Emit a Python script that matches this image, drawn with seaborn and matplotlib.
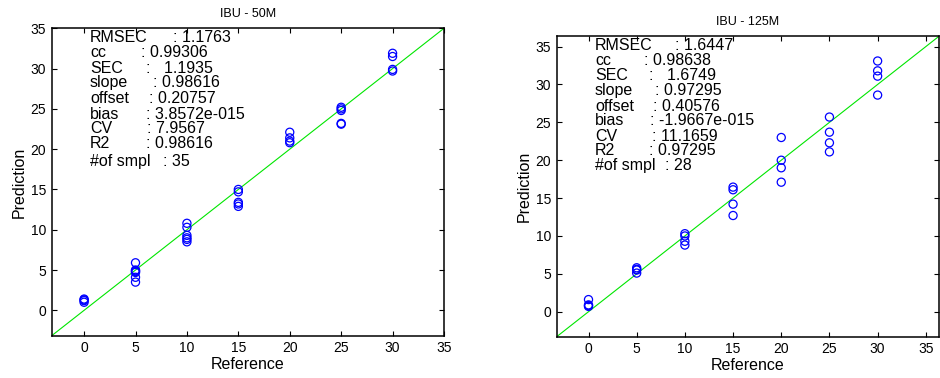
import numpy as np
import pandas as pd
import matplotlib
matplotlib.use("Agg")
import matplotlib.pyplot as plt
import seaborn as sns

# ---- data ----
ref_50 = [0, 0, 0, 0,
          5, 5, 5, 5, 5, 5, 5,
          10, 10, 10, 10, 10, 10,
          15, 15, 15, 15, 15,
          20, 20, 20, 20,
          25, 25, 25, 25, 25,
          30, 30, 30, 30]
pred_50 = [1.4, 1.3, 1.2, 1.0,
           5.9, 5.0, 4.9, 4.8, 4.7, 4.1, 3.5,
           10.8, 10.3, 9.3, 9.0, 8.8, 8.5,
           15.0, 14.7, 13.4, 13.2, 12.9,
           22.1, 21.4, 21.0, 20.8,
           25.2, 25.0, 24.8, 23.2, 23.1,
           31.9, 31.5, 29.9, 29.7]
ref_125 = [0, 0, 0, 0,
           5, 5, 5, 5,
           10, 10, 10, 10,
           15, 15, 15, 15,
           20, 20, 20, 20,
           25, 25, 25, 25,
           30, 30, 30, 30]
pred_125 = [1.6, 0.9, 0.8, 0.7,
            5.8, 5.6, 5.5, 5.1,
            10.3, 10.0, 9.3, 8.8,
            16.45, 16.1, 14.2, 12.7,
            23.0, 20.0, 19.0, 17.1,
            25.7, 23.7, 22.3, 21.1,
            33.1, 31.8, 31.1, 28.6]

titles = ["IBU - 50M", "IBU - 125M"]
stat_names = ["RMSEC", "cc", "SEC", "slope", "offset", "bias", "CV", "R2", "#of smpl"]
stats_50 = [": 1.1763", ": 0.99306", ":   1.1935", ": 0.98616", ": 0.20757",
            ": 3.8572e-015", ": 7.9567", ": 0.98616", ": 35"]
stats_125 = [": 1.6447", ": 0.98638", ":   1.6749", ": 0.97295", ": 0.40576",
             ": -1.9667e-015", ": 11.1659", ": 0.97295", ": 28"]
ticks = [0, 5, 10, 15, 20, 25, 30, 35]

sns.set_style("ticks")
plt.rcParams['font.family'] = ['Liberation Sans', 'DejaVu Sans']
plt.rcParams['text.color'] = 'black'
plt.rcParams['axes.labelcolor'] = 'black'
plt.rcParams['xtick.color'] = 'black'
plt.rcParams['ytick.color'] = 'black'

W, H = 940, 378
fig = plt.figure(figsize=(W / 100, H / 100), dpi=100)

panels = [
    dict(rect=(51.7, 28.3, 444.0, 335.7), lim=(-3.15, 35.0), ref=ref_50, pred=pred_50,
         stats=stats_50, title=titles[0],
         colx=[0.309, 0.228, 0.240, 0.258, 0.248, 0.240, 0.243, 0.240, 0.284],
         rowy=[0.029, 0.079, 0.130, 0.177, 0.228, 0.280, 0.325, 0.374, 0.434],
         x0=0.0976),
    dict(rect=(556.7, 36.0, 939.3, 336.7), lim=(-3.3, 36.4), ref=ref_125, pred=pred_125,
         stats=stats_125, title=titles[1],
         colx=[0.309, 0.228, 0.242, 0.257, 0.251, 0.244, 0.248, 0.242, 0.283],
         rowy=[0.030, 0.082, 0.133, 0.182, 0.233, 0.282, 0.333, 0.382, 0.431],
         x0=0.100),
]

for p in panels:
    l, t, r, b = p["rect"]
    ax = fig.add_axes([l / W, 1 - b / H, (r - l) / W, (b - t) / H])
    df = pd.DataFrame({"Reference": p["ref"], "Prediction": p["pred"]})
    sns.scatterplot(data=df, x="Reference", y="Prediction", ax=ax, marker="o",
                    facecolor="none", edgecolor=(0, 0, 1), linewidth=0.9, s=34,
                    zorder=3)
    ax.axline((0, 0), slope=1, color=(0, 0.9, 0), lw=0.8, zorder=2)
    ax.set_xlim(*p["lim"])
    ax.set_ylim(*p["lim"])
    ax.set_xticks(ticks)
    ax.set_yticks(ticks)
    ax.tick_params(direction="in", length=3.5, width=0.8, labelsize=10,
                   top=True, right=True, colors="black", pad=4)
    for sp in ax.spines.values():
        sp.set_visible(True)
        sp.set_linewidth(1.1)
        sp.set_color("black")
    ax.set_xlabel("Reference", fontsize=11.5, labelpad=1)
    ax.set_ylabel("Prediction", fontsize=11.5, labelpad=3)
    ax.set_title(p["title"], fontsize=9, pad=8)
    for name, val, cx, ry in zip(stat_names, p["stats"], p["colx"], p["rowy"]):
        ax.text(p["x0"], 1 - ry, name, transform=ax.transAxes, fontsize=11.5,
                va="center", ha="left")
        ax.text(cx, 1 - ry, val, transform=ax.transAxes, fontsize=11.5,
                va="center", ha="left")

fig.savefig("out.png", dpi=100)
